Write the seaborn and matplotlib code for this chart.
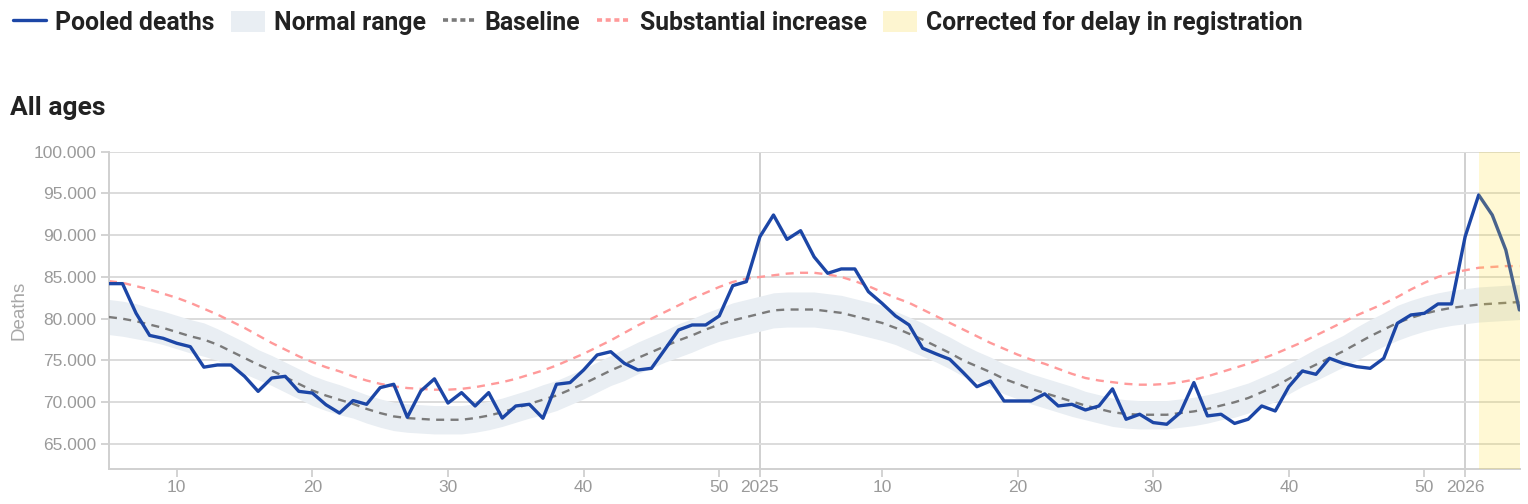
import numpy as np
import pandas as pd
import seaborn as sns
import matplotlib.pyplot as plt
from matplotlib.lines import Line2D
from matplotlib.patches import Patch
from matplotlib.ticker import FuncFormatter

# running week index: 2024 W1 = 1, 2025 W1 = 53, 2026 W1 = 105 (data 2024 W5 .. 2026 W5)
week_index = np.arange(5, 110)

pooled_deaths = [
    84200, 84200, 80650, 78000, 77650, 77060, 76650, 74200, 74460, 74460,
    73100, 71300, 72900, 73100, 71300, 71100, 69700, 68700, 70200, 69750,
    71750, 72150, 68200, 71350, 72800, 69900, 71150, 69550, 71150, 68100,
    69550, 69750, 68080, 72150, 72350, 73860, 75660, 76050, 74660, 73860,
    74060, 76340, 78650, 79250, 79250, 80330, 83960, 84440, 89820, 92420,
    89500, 90540, 87400, 85440, 85960, 85960, 83240, 81850, 80330, 79250,
    76460, 75780, 75140, 73540, 71860, 72550, 70150, 70150, 70150, 71000,
    69550, 69750, 69070, 69550, 71600, 67960, 68560, 67560, 67360, 68760,
    72350, 68360, 68560, 67460, 67960, 69550, 68950, 71860, 73740, 73340,
    75260, 74660, 74260, 74060, 75260, 79450, 80450, 80650, 81770, 81770,
    89820, 94820, 92420, 88230, 81050,
]

baseline = [
    80200, 80000, 79700, 79300, 78900, 78400, 77900, 77500, 76900, 76100,
    75300, 74500, 73800, 73000, 72200, 71400, 70800, 70300, 69800, 69200,
    68700, 68300, 68100, 68000, 67900, 67900, 67900, 68100, 68400, 68800,
    69300, 69800, 70300, 70800, 71500, 72200, 73000, 73800, 74500, 75300,
    76000, 76700, 77400, 78000, 78700, 79300, 79800, 80200, 80600, 81000,
    81100, 81100, 81100, 80900, 80700, 80300, 79900, 79500, 78900, 78200,
    77500, 76700, 75900, 75000, 74300, 73600, 72800, 72200, 71600, 71100,
    70600, 70100, 69600, 69200, 68800, 68600, 68500, 68500, 68500, 68700,
    68900, 69200, 69600, 70000, 70500, 71200, 71900, 72800, 73700, 74500,
    75300, 76100, 77000, 77900, 78700, 79500, 80100, 80600, 81000, 81300,
    81500, 81700, 81800, 81900, 82000,
]

normal_low = [
    78100, 77900, 77600, 77300, 76900, 76400, 75900, 75500, 75000, 74200,
    73400, 72700, 72000, 71200, 70400, 69600, 69000, 68500, 68100, 67500,
    67000, 66600, 66400, 66300, 66200, 66200, 66200, 66400, 66700, 67100,
    67600, 68100, 68500, 69000, 69700, 70400, 71200, 72000, 72600, 73400,
    74100, 74800, 75400, 76000, 76700, 77300, 77700, 78100, 78500, 78900,
    79000, 79000, 79000, 78800, 78600, 78200, 77800, 77400, 76900, 76200,
    75500, 74800, 74000, 73100, 72500, 71800, 71000, 70400, 69800, 69300,
    68800, 68300, 67900, 67500, 67100, 66900, 66800, 66800, 66800, 67000,
    67200, 67500, 67900, 68200, 68700, 69400, 70100, 71000, 71900, 72600,
    73400, 74200, 75000, 75900, 76700, 77400, 78000, 78500, 78900, 79200,
    79400, 79600, 79700, 79800, 79900,
]

normal_high = [
    82300, 82100, 81800, 81300, 80900, 80400, 79900, 79500, 78800, 78000,
    77200, 76300, 75600, 74800, 74000, 73200, 72600, 72100, 71500, 70900,
    70400, 70000, 69800, 69700, 69600, 69600, 69600, 69800, 70100, 70500,
    71000, 71500, 72100, 72600, 73300, 74000, 74800, 75600, 76400, 77200,
    77900, 78600, 79400, 80000, 80700, 81300, 81900, 82300, 82700, 83100,
    83200, 83200, 83200, 83000, 82800, 82400, 82000, 81600, 80900, 80200,
    79500, 78600, 77800, 76900, 76100, 75400, 74600, 74000, 73400, 72900,
    72400, 71900, 71300, 70900, 70500, 70300, 70200, 70200, 70200, 70400,
    70600, 70900, 71300, 71800, 72300, 73000, 73700, 74600, 75500, 76400,
    77200, 78000, 79000, 79900, 80700, 81600, 82200, 82700, 83100, 83400,
    83600, 83800, 83900, 84000, 84100,
]

substantial_increase = [
    84500, 84300, 83900, 83500, 83000, 82500, 81900, 81200, 80500, 79700,
    78900, 78000, 77100, 76300, 75500, 74800, 74200, 73700, 73100, 72600,
    72200, 71900, 71700, 71600, 71500, 71500, 71600, 71800, 72100, 72400,
    72800, 73300, 73800, 74400, 75100, 75800, 76600, 77400, 78300, 79200,
    80000, 80800, 81600, 82400, 83100, 83800, 84400, 84800, 85000, 85200,
    85400, 85500, 85500, 85300, 85000, 84500, 83900, 83200, 82500, 81900,
    81100, 80300, 79500, 78700, 77900, 77100, 76400, 75700, 75100, 74600,
    74000, 73400, 72900, 72600, 72400, 72200, 72100, 72100, 72200, 72400,
    72700, 73100, 73600, 74100, 74600, 75200, 75800, 76500, 77200, 78000,
    78800, 79600, 80400, 81100, 81800, 82600, 83500, 84300, 85000, 85500,
    85800, 86100, 86200, 86300, 86300,
]

tick_weeks = [10, 20, 30, 40, 50, 53, 62, 72, 82, 92, 102, 105]
tick_labels = ["10", "20", "30", "40", "50", "2025", "10", "20", "30", "40", "50", "2026"]
year_starts = [53, 105]
delay_start = 106

df = pd.DataFrame({
    "week": week_index,
    "deaths": pooled_deaths,
    "baseline": baseline,
    "low": normal_low,
    "high": normal_high,
    "substantial": substantial_increase,
})

BLUE = "#1c46a6"
BAND = "#e9eef3"
GREY = "#7a7a7a"
RED = "#ff9a9a"
YELLOW = "#ffdc28"

sns.set_theme(style="white")
plt.rcParams["font.family"] = ["Liberation Sans", "DejaVu Sans"]

fig = plt.figure(figsize=(15.28, 5.04), dpi=100)
ax = fig.add_axes([0.0713, 0.0694, 0.9235, 0.6296])

ax.fill_between(df["week"], df["low"], df["high"], color=BAND, lw=0, zorder=1)
sns.lineplot(data=df, x="week", y="substantial", color=RED, lw=1.7,
             linestyle=(0, (3.4, 2.7)), ax=ax, zorder=2)
sns.lineplot(data=df, x="week", y="baseline", color=GREY, lw=1.7,
             linestyle=(0, (3.4, 2.7)), ax=ax, zorder=3)
sns.lineplot(data=df, x="week", y="deaths", color=BLUE, lw=2.4, ax=ax, zorder=4)
ax.axvspan(delay_start, 110, color=YELLOW, alpha=0.2, lw=0, zorder=5)

for w in year_starts:
    ax.axvline(w, color="#d0d0d0", lw=1.4, zorder=0.5)

ax.set_xlim(5, 109.05)
ax.set_ylim(62000, 100000)
ax.set_yticks(np.arange(65000, 100001, 5000))
ax.yaxis.set_major_formatter(FuncFormatter(lambda v, p: f"{v:,.0f}".replace(",", ".")))
ax.set_xticks(tick_weeks)
ax.set_xticklabels(tick_labels)
ax.yaxis.grid(True, color="#dcdcdc", lw=1.4)
ax.set_axisbelow(True)

for side in ["top", "right"]:
    ax.spines[side].set_visible(False)
for side in ["left", "bottom"]:
    ax.spines[side].set_color("#d0d0d0")
    ax.spines[side].set_linewidth(1.4)

ax.tick_params(axis="x", length=6, width=1.2, color="#cccccc", labelcolor="#9a9a9a",
               labelsize=12.5, pad=2, bottom=True)
ax.tick_params(axis="y", length=6, width=1.2, color="#cccccc", labelcolor="#9a9a9a",
               labelsize=12.5, pad=3, left=True)
ax.set_xlabel(None)
ax.set_ylabel("Deaths", color="#a8a8a8", fontsize=13.5)
ax.yaxis.set_label_coords(-0.058, 0.5)

fig.text(10 / 1528, 1 - 108 / 504, "All ages", ha="left", va="center",
         fontsize=19, fontweight="bold", color="#222222", family=["Roboto", "DejaVu Sans"])

handles = [
    Line2D([], [], color=BLUE, lw=2.4),
    Patch(facecolor=BAND, edgecolor="none"),
    Line2D([], [], color=GREY, lw=2.6, linestyle=(0, (1.4, 1.0))),
    Line2D([], [], color=RED, lw=2.6, linestyle=(0, (1.4, 1.0))),
    Patch(facecolor="#fdf5d0", edgecolor="none"),
]
labels = ["Pooled deaths", "Normal range", "Baseline", "Substantial increase",
          "Corrected for delay in registration"]
fig.legend(handles, labels, loc="center left", bbox_to_anchor=(13 / 1528, 1 - 23 / 504),
           ncol=5, frameon=False, borderpad=0, borderaxespad=0,
           handlelength=1.35, handleheight=0.95, handletextpad=0.36, columnspacing=0.68,
           prop={"family": ["Roboto", "DejaVu Sans"], "weight": "semibold", "size": 17.8},
           labelcolor="#222222")

fig.savefig("out.png", dpi=100)
